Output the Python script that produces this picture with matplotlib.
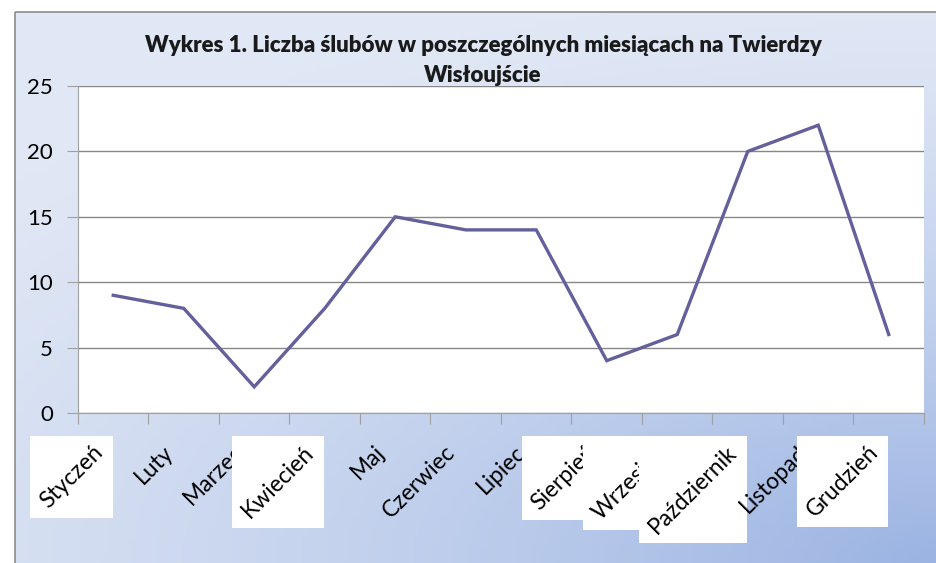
import numpy as np
import matplotlib.pyplot as plt
import matplotlib.transforms as mtransforms
from matplotlib.patches import Rectangle

plt.rcParams['font.family'] = ['Lato', 'DejaVu Sans']

months = ['Styczeń', 'Luty', 'Marzec', 'Kwiecień', 'Maj', 'Czerwiec', 'Lipiec',
          'Sierpień', 'Wrzesień', 'Październik', 'Listopad', 'Grudzień']
weddings = [9, 8, 2, 8, 15, 14, 14, 4, 6, 20, 22, 6]
boxed = ['Styczeń', 'Kwiecień', 'Sierpień', 'Wrzesień', 'Październik', 'Grudzień']
yticks = [0, 5, 10, 15, 20, 25]

W, H = 937, 563
fig = plt.figure(figsize=(W / 100, H / 100), dpi=100)

# background: white margin, gradient chart area with grey frame
bg = fig.add_axes([0, 0, 1, 1], zorder=-10)
bg.set_axis_off()
bg.set_xlim(0, W)
bg.set_ylim(H, 0)
xx, yy = np.meshgrid(np.linspace(0, 1, 200), np.linspace(0, 1, 120))
d = np.sqrt(((1 - xx) * 1.0) ** 2 + ((1 - yy) * 1.3) ** 2)
t = np.clip(1 - d / 1.35, 0, 1) ** 1.4
c0 = np.array([0xe0, 0xe7, 0xf5]) / 255
c1 = np.array([0x9a, 0xb3, 0xe2]) / 255
img = c0[None, None, :] * (1 - t[..., None]) + c1[None, None, :] * t[..., None]
bg.imshow(img, extent=[15, W + 5, H + 5, 12], aspect='auto', zorder=0)
bg.add_patch(Rectangle((15, 12), W, H, fill=False, edgecolor='#8c8c8c', lw=1.2, zorder=1))

fig.text(483 / W, 1 - 45 / H, 'Wykres 1. Liczba ślubów w poszczególnych miesiącach na Twierdzy',
         ha='center', va='center', fontsize=16, fontweight='heavy', color='#1a1a1a')
fig.text(483 / W, 1 - 75 / H, 'Wisłoujście',
         ha='center', va='center', fontsize=16, fontweight='heavy', color='#1a1a1a')

ax = fig.add_axes([78 / W, 1 - 413 / H, (924 - 78) / W, (413 - 86) / H])
ax.set_facecolor('white')
x = np.arange(len(months))
ax.plot(x, weddings, color='#63609b', lw=2.4, solid_joinstyle='miter', zorder=3)
ax.set_xlim(-0.5, len(months) - 0.5)
ax.set_ylim(0, 25)
ax.set_yticks(yticks)
ax.yaxis.grid(True, color='#878787', lw=1)
ax.set_axisbelow(True)
for s in ['top', 'right']:
    ax.spines[s].set_visible(False)
ax.spines['left'].set_color('#a0a0a0')
ax.spines['bottom'].set_color('#a0a0a0')
ax.tick_params(axis='y', length=8, color='#a0a0a0', labelsize=16, pad=10, labelcolor='black')
ax.set_xticks(np.arange(-0.5, len(months), 1.0))
ax.tick_params(axis='x', length=8, color='#a0a0a0', labelbottom=False)

trans = mtransforms.offset_copy(ax.get_xaxis_transform(), fig=fig, x=-14, y=-36, units='dots')
labels = []
for i, m in enumerate(months):
    txt = ax.text(i, 0, m, transform=trans, rotation=45, rotation_mode='anchor',
                  ha='right', va='center', fontsize=16.5, color='black',
                  clip_on=False, zorder=11 + 2 * i)
    labels.append(txt)

fig.canvas.draw()
r = fig.canvas.get_renderer()
for i, (m, txt) in enumerate(zip(months, labels)):
    if m in boxed:
        bb = txt.get_window_extent(r)
        pad = 6
        ax.add_patch(Rectangle((bb.x0 - pad, bb.y0 - pad), bb.width + 2 * pad, bb.height + 2 * pad,
                               transform=mtransforms.IdentityTransform(), facecolor='white',
                               edgecolor='none', clip_on=False, zorder=10 + 2 * i))

fig.savefig('out.png', dpi=100)
